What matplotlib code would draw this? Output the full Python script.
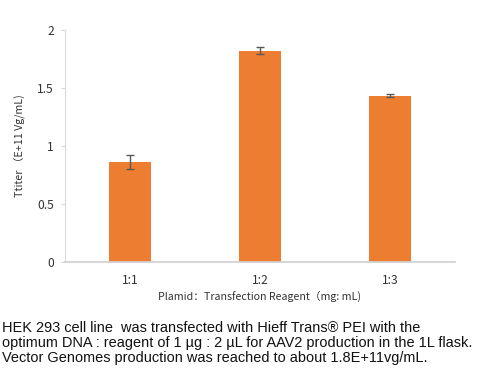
import matplotlib.pyplot as plt

ratios = ['1:1', '1:2', '1:3']
titer = [0.86, 1.82, 1.435]
titer_err = [0.06, 0.03, 0.015]
y_ticks = [0, 0.5, 1, 1.5, 2]
y_tick_labels = ['0', '0.5', '1', '1.5', '2']

caption = ("HEK 293 cell line  was transfected with Hieff Trans\u00ae PEI with the\n"
           "optimum DNA : reagent of 1 \u00b5g : 2 \u00b5L for AAV2 production in the 1L flask.\n"
           "Vector Genomes production was reached to about 1.8E+11vg/mL.")

plt.rcParams['font.family'] = ['Noto Sans CJK SC', 'DejaVu Sans']

fig = plt.figure(figsize=(4.8, 3.73), dpi=100)
ax = fig.add_axes([65 / 480, 1 - 262 / 373, 390 / 480, 232 / 373])

ax.bar(range(len(ratios)), titer, width=0.32, color='#ED7D31',
       yerr=titer_err, error_kw=dict(ecolor='#595959', elinewidth=1.0, capsize=3, capthick=1.0))

ax.set_xlim(-0.5, len(ratios) - 0.5)
ax.set_ylim(0, 2)
ax.set_yticks(y_ticks)
ax.set_yticklabels(y_tick_labels)
ax.set_xticks(range(len(ratios)))
ax.set_xticklabels(ratios)

for s in ['top', 'right']:
    ax.spines[s].set_visible(False)
ax.spines['left'].set_color('#d9d9d9')
ax.spines['bottom'].set_color('#d0d0d0')
ax.spines['bottom'].set_linewidth(1.2)
ax.tick_params(axis='y', length=3, color='#d9d9d9', labelsize=8.7, labelcolor='#333333', pad=5)
ax.tick_params(axis='x', length=0, labelsize=8.7, labelcolor='#333333', pad=9)

ax.set_ylabel('Ttiter \uff08E+11 Vg/mL)', fontsize=7.7, color='#333333', labelpad=9,
              fontweight='medium')
ax.set_xlabel('Plamid\uff1aTransfection Reagent\uff08mg: mL)', fontsize=7.7, color='#333333',
              labelpad=2, fontweight='medium')

fig.text(0.005, 1 - 343 / 373, caption, fontsize=10.45, family='Liberation Sans',
         ha='left', va='center', linespacing=1.1, color='#111111')

fig.savefig('out.png', dpi=100)
